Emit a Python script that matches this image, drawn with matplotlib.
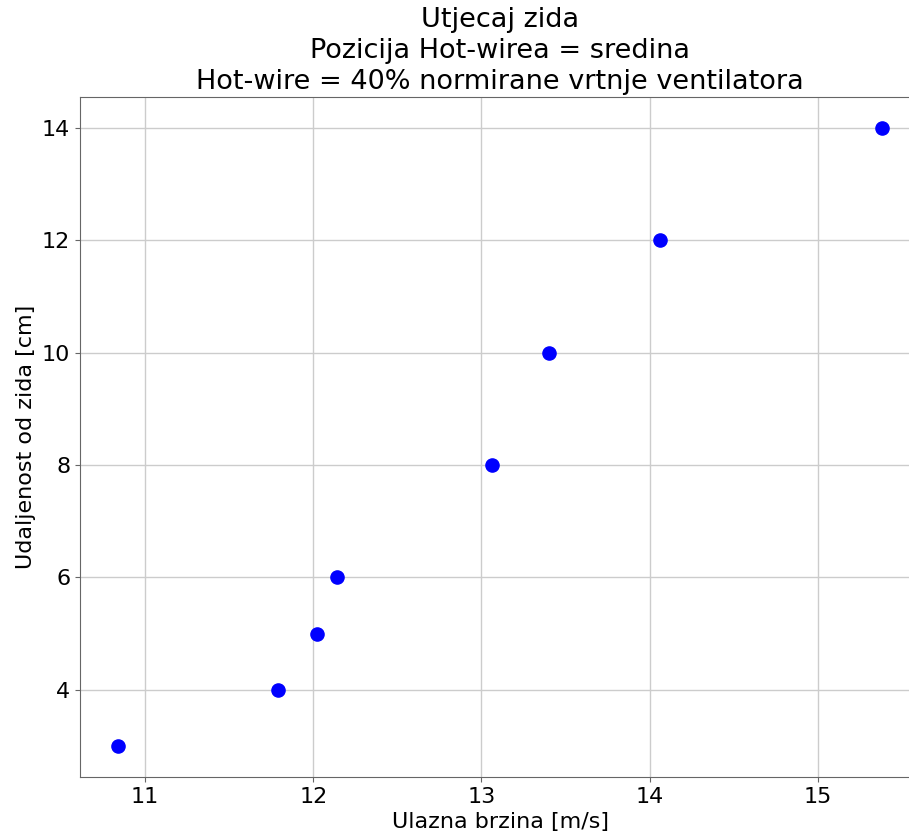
import matplotlib
matplotlib.use("Agg")
from matplotlib import pyplot as plt

# measured points
brzina = [10.84, 11.79, 12.02, 12.14, 13.06, 13.40, 14.06, 15.38]  # m/s
udaljenost = [3, 4, 5, 6, 8, 10, 12, 14]  # cm

fig = plt.figure(figsize=(9.09, 8.39), dpi=100)
# right spine falls just outside the picture, like in the cropped original
ax = fig.add_axes([80 / 909, 1 - 777 / 839, 840 / 909, 680 / 839])

ax.scatter(brzina, udaljenost, color='blue', s=90, zorder=3)
ax.grid(True, color='0.8', linewidth=1)
ax.set_axisbelow(True)

ax.set_title("Utjecaj zida\nPozicija Hot-wirea = sredina\n"
             "Hot-wire = 40% normirane vrtnje ventilatora",
             fontsize=19.5, linespacing=1.25)
ax.set_xlabel("Ulazna brzina [m/s]", fontsize=16)
ax.set_ylabel("Udaljenost od zida [cm]", fontsize=16)
ax.tick_params(labelsize=16, color='0.4')
for s in ax.spines.values():
    s.set_color('0.4')
ax.spines['right'].set_visible(False)  # off-canvas anyway

fig.savefig("out.png", dpi=100)
